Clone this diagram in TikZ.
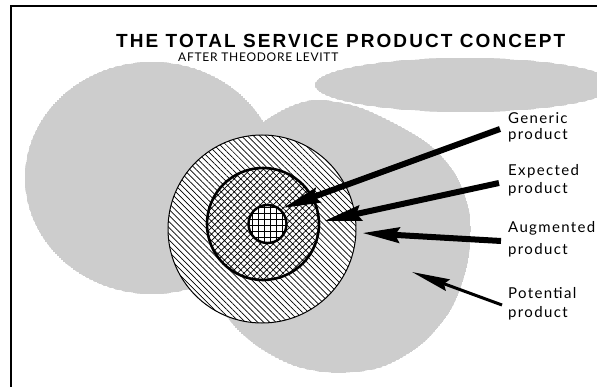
\documentclass[tikz,border=0pt]{standalone}
\usepackage{fontspec}
\setmainfont{Lato}
\newfontfamily\titlefont[LetterSpace=11]{Liberation Sans}
\newfontfamily\subfont[LetterSpace=6]{Lato}
\newfontfamily\labelfont[LetterSpace=9]{Lato}
\usetikzlibrary{patterns.meta,arrows.meta}
\begin{document}
\begin{tikzpicture}[x=1pt,y=-1pt,
  stipple/.style={pattern={Dots[radius=0.7pt,distance=2pt]},pattern color=black!85},
  ring/.style={circle,inner sep=0pt,preaction={fill=white}},
  lbl/.style={anchor=base west,inner sep=0pt,font=\labelfont\fontsize{15}{15}\selectfont},
  bigarrow/.style={line width=6pt,-{Stealth[length=37pt,width=15pt,inset=4pt]}},
  thinarrow/.style={line width=3pt,-{Stealth[length=38pt,width=12pt,inset=4pt]}}
]
\useasboundingbox (0,0) rectangle (597,387);
% stipple blobs (one path, so overlaps stay even)
\begin{scope}
\clip (0,0) rectangle (597,387);
\fill[stipple] (152,178) ellipse [x radius=127, y radius=116]
  (465,85) ellipse [x radius=150, y radius=27]
  plot[smooth cycle] coordinates {(283,110) (315,100) (355,106) (392,122) (430,145) (456,175) (470,215) (468,262) (452,308) (422,344) (382,367) (337,373) (295,366) (257,346) (228,318) (214,282) (212,232) (222,180) (248,135)};
\end{scope}
% frame
\draw[line width=2pt] (597,6) -- (11,6) -- (11,387);
% concentric rings
\node[ring,minimum size=188pt,draw,line width=1pt,pattern={Lines[angle=-45,distance=4.3pt,line width=0.7pt]}] (outer) at (262,229) {};
\node[ring,minimum size=112pt,draw,line width=2.6pt,pattern={Hatch[angle=45,distance=4.6pt,line width=0.7pt]}] (mid) at (263,224) {};
\node[ring,minimum size=38pt,draw,line width=2.4pt,pattern={Hatch[angle=0,distance=6pt,line width=0.7pt]}] (inner) at (267.5,224) {};
% title
\node[anchor=base west,inner sep=0pt,font=\titlefont\bfseries\fontsize{19}{19}\selectfont] (title) at (116,48) {THE TOTAL SERVICE PRODUCT CONCEPT};
\node[anchor=base west,inner sep=0pt,font=\subfont\fontsize{12}{12}\selectfont] (sub) at (178,62) {AFTER THEODORE LEVITT};
% labels
\node[lbl] (gen1) at (508,124) {Generic};
\node[lbl] (gen2) at (508,140) {product};
\node[lbl] (exp1) at (508,176) {Expected};
\node[lbl] (exp2) at (508,194) {product};
\node[lbl] (aug1) at (508,233) {Augmented};
\node[lbl] (aug2) at (508,255) {product};
\node[lbl] (pot1) at (508,299) {Potential};
\node[lbl] (pot2) at (508,318) {product};
% arrow ends
\coordinate (gs) at (500,129); \coordinate (gt) at (283,208);
\coordinate (es) at (499,183); \coordinate (et) at (324,221);
\coordinate (as) at (501,241); \coordinate (at2) at (362,233);
\coordinate (ps) at (502,305); \coordinate (pt) at (412,272);
\draw[bigarrow] (gs) -- (gt);
\draw[bigarrow] (es) -- (et);
\draw[bigarrow] (as) -- (at2);
\draw[thinarrow] (ps) -- (pt);
\end{tikzpicture}
\end{document}
